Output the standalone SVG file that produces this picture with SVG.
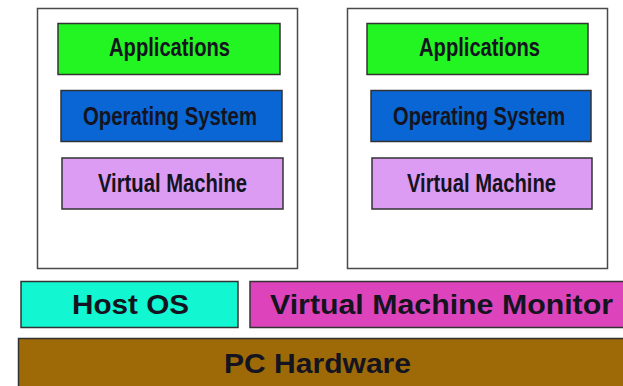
<svg xmlns="http://www.w3.org/2000/svg" width="623" height="386" viewBox="0 0 623 386">
<style>
.vm{fill:#ffffff;stroke:#4a4a4a;stroke-width:1.5}
.box{stroke:#333333;stroke-width:1.5}
.app{fill:#22f522}
.os{fill:#0a66d4}
.vmb{fill:#dc9cf4}
.t{font-family:"Liberation Sans",Arial,sans-serif;font-weight:bold;fill:#141420;text-anchor:start}
.s{font-size:25px}
.l{font-size:28px}
</style>
<g id="vm1">
<rect class="vm" x="37.5" y="8.5" width="260" height="260"/>
<g id="vm1-app"><rect class="box app" x="58" y="23.5" width="222" height="51"/><text class="t s" x="109" y="56" textLength="121" lengthAdjust="spacingAndGlyphs">Applications</text></g>
<g id="vm1-os"><rect class="box os" x="61" y="90.5" width="221" height="51"/><text class="t s" x="83" y="125" textLength="174" lengthAdjust="spacingAndGlyphs">Operating System</text></g>
<g id="vm1-vm"><rect class="box vmb" x="62" y="158" width="221" height="51"/><text class="t s" x="98" y="192" textLength="149" lengthAdjust="spacingAndGlyphs">Virtual Machine</text></g>
</g>
<g id="vm2">
<rect class="vm" x="347.5" y="8.5" width="260" height="260"/>
<g id="vm2-app"><rect class="box app" x="367" y="23.5" width="221" height="51"/><text class="t s" x="419" y="56" textLength="121" lengthAdjust="spacingAndGlyphs">Applications</text></g>
<g id="vm2-os"><rect class="box os" x="371" y="90.5" width="220" height="51"/><text class="t s" x="393" y="125" textLength="172" lengthAdjust="spacingAndGlyphs">Operating System</text></g>
<g id="vm2-vm"><rect class="box vmb" x="372" y="158" width="220" height="51"/><text class="t s" x="407" y="192" textLength="149" lengthAdjust="spacingAndGlyphs">Virtual Machine</text></g>
</g>
<g id="hostos"><rect class="box" fill="#12f6d2" x="21" y="281.5" width="217" height="46"/><text class="t l" x="72" y="313.5" textLength="117" lengthAdjust="spacingAndGlyphs">Host OS</text></g>
<g id="vmm"><rect class="box" fill="#dd44bb" x="250" y="281.5" width="380" height="46"/><text class="t l" x="270" y="313.5" textLength="343" lengthAdjust="spacingAndGlyphs">Virtual Machine Monitor</text></g>
<g id="hw"><rect class="box" fill="#9e6a08" x="18.5" y="338.5" width="620" height="60"/><text class="t l" x="224" y="372.5" textLength="187" lengthAdjust="spacingAndGlyphs">PC Hardware</text></g>
<g id="connectors"/>
</svg>
